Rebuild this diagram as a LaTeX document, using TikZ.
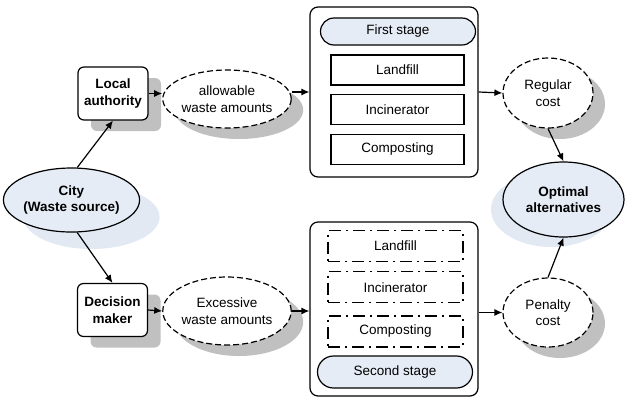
\documentclass[tikz,border=0pt]{standalone}
\usepackage{fontspec}
\setmainfont{Liberation Sans}
\usetikzlibrary{arrows.meta}
\usetikzlibrary{positioning}
\usetikzlibrary{shapes.geometric}
\usetikzlibrary{shapes.misc}
\usetikzlibrary{shadows}
\definecolor{paleblue}{HTML}{E6ECF6}
\definecolor{paleshade}{HTML}{E2E9F3}
\definecolor{shadegrey}{HTML}{C0C0C0}
\tikzset{
  % connector with a filled arrow tip
  flow/.style = {
    draw = black,
    line width = 1.2pt,
    -{Latex[length=8pt,width=7pt]}
  },
  grey shadow/.style = {
    drop shadow = {shadow xshift=#1, shadow yshift=-11pt,
      fill=shadegrey, opacity=1}
  }
}
\tikzset{
  base node/.style = {
    draw = black,
    line width = 1.2pt,
    align = center,
    inner sep = 0pt,
    font = \fontsize{13.5}{16.5}\selectfont
  },
  % deciding party
  actor/.style = {
    base node,
    rectangle,
    rounded corners = 6pt,
    fill = white,
    minimum width = 70pt,
    minimum height = 53pt,
    font = \fontsize{13.5}{16.5}\selectfont\bfseries,
    grey shadow = 13pt
  },
  % source and result
  goal/.style = {
    base node,
    ellipse,
    fill = paleblue,
    font = \fontsize{13.5}{16.5}\selectfont\bfseries
  },
  % waste amounts and costs
  amount/.style = {
    base node,
    ellipse,
    dash pattern = on 6pt off 3pt,
    fill = white,
    grey shadow = 12pt
  },
  % stage frame
  stage/.style = {
    base node,
    rectangle,
    rounded corners = 8pt,
    minimum width = 168pt
  },
  % stage title
  title/.style = {
    base node,
    rounded rectangle,
    fill = paleblue,
    minimum width = 155pt
  },
  % treatment option
  option/.style = {
    base node,
    rectangle,
    minimum width = 133pt,
    minimum height = 30pt
  },
  option2/.style = {
    option,
    minimum width = 135pt,
    minimum height = 31pt,
    dash pattern = on 12pt off 5pt on 2pt off 5pt
  }
}

\begin{document}
\begin{tikzpicture}[x=1pt, y=-1pt]
    \useasboundingbox (0,0) rectangle (628,400);

    \node[goal, minimum width=117pt, minimum height=64pt,
      drop shadow={shadow xshift=20pt, shadow yshift=-17pt, fill=paleshade, opacity=1}]
      (city) at (71.5,200) {City\\(Waste source)};
    \node[actor] (local) at (113,93.5) {Local\\authority};
    \node[actor] (decision) at (112.5,310) {Decision\\maker};

    \node[amount, minimum width=123pt, minimum height=58pt]
      (allowable) at (227,99) {allowable\\waste amounts};
    \node[amount, minimum width=122pt, minimum height=68pt]
      (excessive) at (227,311) {Excessive\\waste amounts};

    \node[stage, minimum height=170pt] (first) at (394,92) {};
    \node[title, minimum height=27pt] (title1) at (398,31.5) {First stage};
    \node[option] (land1) at (397.5,70) {Landfill};
    \node[option] (incin1) [below=8pt of land1] {Incinerator};
    \node[option] (comp1) [below=9pt of incin1] {Composting};

    \node[stage, minimum height=174pt] (second) at (394,309) {};
    \node[option2] (land2) at (395.5,246) {Landfill};
    \node[option2] (incin2) [below=9pt of land2] {Incinerator};
    \node[option2] (comp2) [below=12pt of incin2] {Composting};
    \node[title, minimum height=32pt] (title2) at (395,372) {Second stage};

    \node[amount, minimum width=90pt, minimum height=70pt]
      (regular) at (548,93) {Regular\\cost};
    \node[amount, minimum width=90pt, minimum height=69pt]
      (penalty) at (548,312.5) {Penalty\\cost};
    \node[goal, minimum width=121pt, minimum height=75pt,
      drop shadow={shadow xshift=-12pt, shadow yshift=-10pt, fill=paleshade, opacity=1}]
      (optimal) at (563.5,199.5) {Optimal\\alternatives};

    \draw[flow] (city.80) -- (local.south);
    \draw[flow] (city.-80) -- (decision.north);
    \draw[flow] (local.east) -- (local.east -| allowable.west);
    \draw[flow] (decision.east) -- (excessive.west);
    \draw[flow] (allowable.east |- first.west) -- (first.west);
    \draw[flow] (excessive.east) -- (excessive.east -| second.west);
    \draw[flow] (first.east) -- (regular.west);
    \draw[flow] (second.east |- penalty.west) -- (penalty.west);
    \draw[flow] (regular.south) -- (optimal.north);
    \draw[flow] (penalty.north) -- (optimal.south);
  \end{tikzpicture}
\end{document}
